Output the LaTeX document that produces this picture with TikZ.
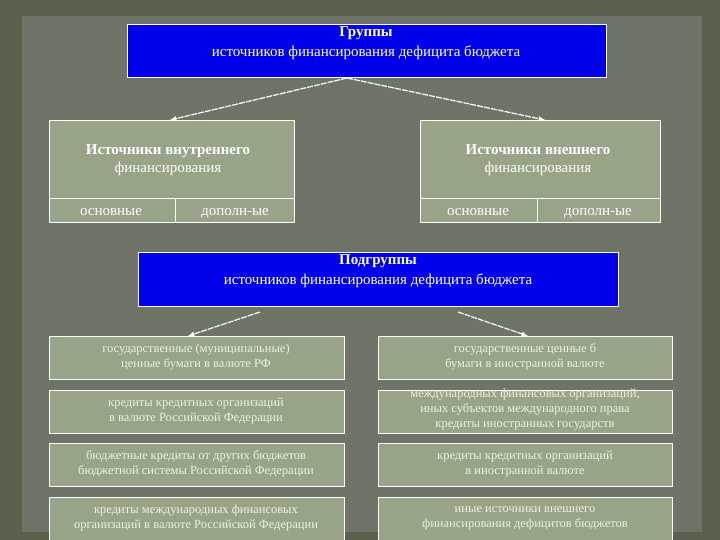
\documentclass[tikz,border=0pt]{standalone}
\usepackage{fontspec}
\setmainfont{Liberation Serif}
\definecolor{bgouter}{RGB}{88,98,76}
\definecolor{bginner}{RGB}{110,116,104}
\definecolor{boxblue}{RGB}{0,0,235}
\definecolor{boxgreen}{RGB}{152,164,136}
\definecolor{lighttext}{RGB}{236,240,226}
\begin{document}
\begin{tikzpicture}[x=1pt,y=-1pt,
  blue/.style={draw=white,fill=boxblue,line width=0.8pt},
  grn/.style={draw=white,fill=boxgreen,line width=0.8pt},
  txt/.style={text=white,font=\fontsize{15}{18}\selectfont,align=center,inner sep=0pt},
  stxt/.style={text=lighttext,font=\fontsize{12.5}{15}\selectfont,align=center,inner sep=0pt},
  arr/.style={draw=white,line width=1.2pt,dash pattern=on 6pt off 1pt,-latex}]
\useasboundingbox (0,0) rectangle (720,540);
\fill[bgouter] (0,0) rectangle (720,540);
\fill[bginner] (22,16) rectangle (702,532);
% top
\draw[blue] (127,24) rectangle (606,77);
\node[txt] (g1) at (366,33) {\bfseries Группы};
\node[txt] (g2) at (366,53) {источников финансирования дефицита бюджета};
\draw[grn] (49,120) rectangle (294,222);
\draw[white,line width=0.8pt] (49,198) -- (294,198) (175,198) -- (175,222);
\node[txt] (l1) at (168,160) {\bfseries Источники внутреннего\\финансирования};
\node[txt,anchor=base] (l2) at (111,215) {основные};
\node[txt,anchor=base] (l3) at (235,215) {дополн-ые};
\draw[grn] (420,120) rectangle (660,222);
\draw[white,line width=0.8pt] (420,198) -- (660,198) (537,198) -- (537,222);
\node[txt] (r1) at (538,160) {\bfseries Источники внешнего\\финансирования};
\node[txt,anchor=base] (r2) at (478,215) {основные};
\node[txt,anchor=base] (r3) at (598,215) {дополн-ые};
\coordinate (ta) at (347,78);
\coordinate (la) at (170,120);
\coordinate (ra) at (545,120);
\draw[arr] (ta) -- (la);
\draw[arr] (ta) -- (ra);
% sub
\draw[blue] (138,252) rectangle (618,306);
\node[txt] (s1) at (378,261) {\bfseries Подгруппы};
\node[txt] (s2) at (378,281) {источников финансирования дефицита бюджета};
\coordinate (sa) at (260,312); \coordinate (sb) at (188,336);
\coordinate (sc) at (458,312); \coordinate (sd) at (528,336);
\draw[arr] (sa) -- (sb);
\draw[arr] (sc) -- (sd);
\foreach \y in {336,390,443,497} {
  \draw[grn] (49,\y) rectangle (344,\y+43);
  \draw[grn] (378,\y) rectangle (672,\y+43);
}
\node[stxt] (a1) at (196,357) {государственные (муниципальные)\\ценные бумаги в валюте РФ};
\node[stxt] (a2) at (196,411) {кредиты кредитных организаций\\в валюте Российской Федерации};
\node[stxt] (a3) at (196,464) {бюджетные кредиты от других бюджетов\\бюджетной системы Российской Федерации};
\node[stxt] (a4) at (196,518) {кредиты международных финансовых\\организаций в валюте Российской Федерации};
\node[stxt] (b1) at (525,357) {государственные ценные б\\бумаги в иностранной валюте};
\node[stxt] (b2) at (525,410) {международных финансовых организаций,\\иных субъектов международного права\\кредиты иностранных государств};
\node[stxt] (b3) at (525,464) {кредиты кредитных организаций\\в иностранной валюте};
\node[stxt] (b4) at (525,518) {иные источники внешнего\\финансирования дефицитов бюджетов};
\end{tikzpicture}
\end{document}
